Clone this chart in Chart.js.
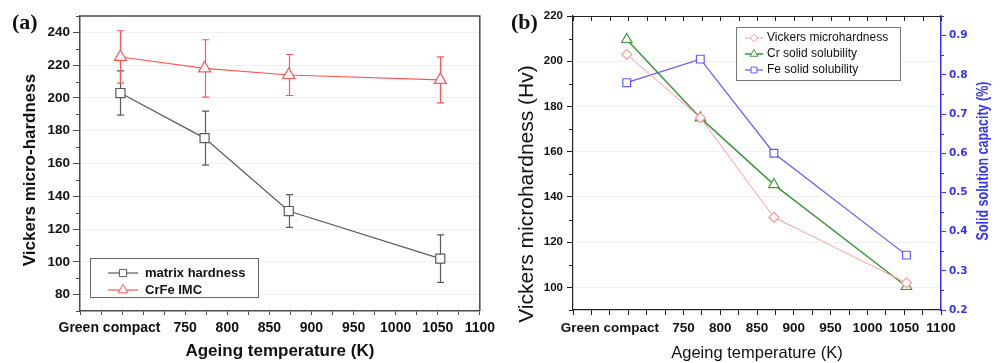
<!DOCTYPE html>
<html>
<head>
<meta charset="utf-8">
<script src="https://cdn.jsdelivr.net/npm/chart.js@4.4.0/dist/chart.umd.min.js"></script>
<style>
  body { margin: 0; background: #fff; width: 1001px; height: 363px; overflow: hidden; position: relative; }
  canvas { position: absolute; top: 0; }
  #chartA { left: 0; }
  #chartB { left: 500px; }
  .tag { position: absolute; top: 11px; font: bold 22px "Liberation Serif", "Times New Roman", serif; line-height: 1; color: #111; }
</style>
</head>
<body>
<canvas id="chartA" width="500" height="363"></canvas>
<canvas id="chartB" width="501" height="363"></canvas>
<div class="tag" style="left:12px">(a)</div>
<div class="tag" style="left:511px">(b)</div>
<script>
// panel (a) data
const tempsA = [673, 773, 873, 1053];
const matrixHardness = [203, 175.5, 131, 102];
const matrixErr = [13.5, 16.5, 10, 14.5];
const imcHardness = [225, 218, 214, 211];
const imcErr = [16, 17.5, 12.5, 14];
const yLabelsA = [80, 100, 120, 140, 160, 180, 200, 220, 240];

// panel (b) data
const tempsB = [673, 773, 873, 1053];
const vickersB = [203, 175, 131, 102];
const crSolubility = [0.89, 0.69, 0.52, 0.26];
const feSolubility = [0.78, 0.84, 0.60, 0.34];
const yLabelsB = [100, 120, 140, 160, 180, 200, 220];
const rightLabelsB = ['0.2', '0.3', '0.4', '0.5', '0.6', '0.7', '0.8', '0.9'];

const xLabels = [750, 800, 850, 900, 950, 1000, 1050, 1100];
const greenCompact = 'Green compact';

const SANS = '"Liberation Sans", Arial, sans-serif';
const DEJAVU = '"DejaVu Sans", sans-serif';
const AXIS_A = '#4a4a4a';
const GRAY = '#5a5a5a';
const RED = '#ff5656';
const PINK = '#ff9c9c';
const GREEN = '#3d963d';
const BLUE = '#5c5cff';
const BLUE_AXIS = '#3434ff';
const FAINT = 'rgba(0,0,0,0.06)';
const NONE = 'rgba(0,0,0,0)';

function stepTicks(min, max, step) {
  const out = [];
  const n = Math.round((max - min) / step);
  for (let i = 0; i <= n; i++) out.push({ value: +(min + i * step).toFixed(4) });
  return out;
}

function points(xs, ys) {
  return xs.map((x, i) => ({ x: x, y: ys[i] }));
}

const isMajorA = v => yLabelsA.includes(v);
const isMajorB = v => yLabelsB.includes(v);
const isMajorR = v => Math.round(v * 100) % 10 === 0 && rightLabelsB.includes(v.toFixed(1));

function drawMarker(ctx, style, x, y, r, color, lw) {
  ctx.save();
  ctx.beginPath();
  if (style === 'rect') {
    const s = Math.SQRT1_2 * r;
    ctx.rect(x - s, y - s, 2 * s, 2 * s);
  } else if (style === 'rectRot') {
    ctx.moveTo(x - r, y); ctx.lineTo(x, y - r); ctx.lineTo(x + r, y); ctx.lineTo(x, y + r);
    ctx.closePath();
  } else {
    const w = Math.sin(Math.PI / 3) * r;
    ctx.moveTo(x, y - r); ctx.lineTo(x + w, y + r / 2); ctx.lineTo(x - w, y + r / 2);
    ctx.closePath();
  }
  ctx.fillStyle = '#fff';
  ctx.fill();
  ctx.strokeStyle = color;
  ctx.lineWidth = lw;
  ctx.stroke();
  ctx.restore();
}

function drawLegendBox(ctx, datasets, box) {
  ctx.save();
  ctx.fillStyle = '#fff';
  ctx.fillRect(box.x, box.y, box.w, box.h);
  ctx.strokeStyle = box.border;
  ctx.lineWidth = 1;
  ctx.strokeRect(box.x + 0.5, box.y + 0.5, box.w, box.h);
  datasets.forEach((ds, i) => {
    const y = box.rowY[i];
    ctx.strokeStyle = ds.borderColor;
    ctx.lineWidth = ds.borderWidth;
    ctx.beginPath();
    ctx.moveTo(box.lineX[0], y);
    ctx.lineTo(box.lineX[1], y);
    ctx.stroke();
    drawMarker(ctx, ds.pointStyle, (box.lineX[0] + box.lineX[1]) / 2, y, ds.pointRadius * box.markerScale, ds.borderColor, 1);
    ctx.fillStyle = '#111';
    ctx.font = box.font;
    ctx.textAlign = 'left';
    ctx.textBaseline = 'middle';
    ctx.fillText(ds.label, box.textX, y);
  });
  ctx.restore();
}

function rotatedText(ctx, text, x, y, font, color, squeeze) {
  ctx.save();
  ctx.translate(x, y);
  ctx.rotate(-Math.PI / 2);
  ctx.scale(squeeze || 1, 1);
  ctx.font = font;
  ctx.fillStyle = color;
  ctx.textAlign = 'center';
  ctx.textBaseline = 'middle';
  ctx.fillText(text, 0, 0);
  ctx.restore();
}

// short ticks between the labelled ones on the vertical axes
function minorTicks(ctx, scale, isMajor, len, color, side) {
  ctx.save();
  ctx.strokeStyle = color;
  ctx.lineWidth = 1;
  ctx.beginPath();
  scale.ticks.forEach(t => {
    if (isMajor(t.value)) return;
    const py = Math.round(scale.getPixelForValue(t.value)) + 0.5;
    if (side === 'left') { ctx.moveTo(scale.right - len, py); ctx.lineTo(scale.right, py); }
    else { ctx.moveTo(scale.left, py); ctx.lineTo(scale.left + len, py); }
  });
  ctx.stroke();
  ctx.restore();
}

// error bars drawn from the dataset's own scales
const errorBars = {
  id: 'errorBars',
  beforeDatasetsDraw(chart) {
    const ctx = chart.ctx;
    chart.data.datasets.forEach((ds, i) => {
      if (!ds.errors) return;
      const meta = chart.getDatasetMeta(i);
      const xs = chart.scales[meta.xAxisID];
      const ys = chart.scales[meta.yAxisID];
      ctx.save();
      ctx.strokeStyle = ds.borderColor;
      ctx.lineWidth = 1.2;
      ds.data.forEach((pt, j) => {
        const x = Math.round(xs.getPixelForValue(pt.x)) + 0.5;
        const top = ys.getPixelForValue(pt.y + ds.errors[j]);
        const bot = ys.getPixelForValue(pt.y - ds.errors[j]);
        ctx.beginPath();
        ctx.moveTo(x, top); ctx.lineTo(x, bot);
        ctx.moveTo(x - 3.5, top); ctx.lineTo(x + 3.5, top);
        ctx.moveTo(x - 3.5, bot); ctx.lineTo(x + 3.5, bot);
        ctx.stroke();
      });
      ctx.restore();
    });
  }
};

const extrasA = {
  id: 'extrasA',
  afterDraw(chart) {
    const ctx = chart.ctx;
    const a = chart.chartArea;
    ctx.save();
    ctx.strokeStyle = AXIS_A;
    ctx.lineWidth = 1.5;
    ctx.beginPath();
    ctx.moveTo(a.left, a.top); ctx.lineTo(a.right, a.top); ctx.lineTo(a.right, a.bottom);
    ctx.stroke();
    ctx.restore();
    minorTicks(ctx, chart.scales.y, isMajorA, 4, AXIS_A, 'left');
    drawLegendBox(ctx, chart.data.datasets, {
      x: 90, y: 258, w: 168, h: 39, rowY: [273, 290], lineX: [108, 138], textX: 145,
      font: 'bold 13px ' + SANS, markerScale: 0.8, border: '#666'
    });
    rotatedText(ctx, 'Vickers micro-hardness', 30, 170, 'bold 17px ' + SANS, '#111');
  }
};

const extrasB = {
  id: 'extrasB',
  afterDraw(chart) {
    const ctx = chart.ctx;
    const a = chart.chartArea;
    const x = chart.scales.x;
    ctx.save();
    ctx.strokeStyle = '#222';
    ctx.lineWidth = 1;
    ctx.beginPath();
    ctx.moveTo(a.left, a.top + 0.5); ctx.lineTo(a.right, a.top + 0.5);
    x.ticks.forEach(t => {
      const px = Math.round(x.getPixelForValue(t.value)) + 0.5;
      ctx.moveTo(px, a.top); ctx.lineTo(px, a.top + 5);
    });
    ctx.stroke();
    ctx.restore();
    minorTicks(ctx, chart.scales.y, isMajorB, 4, '#222', 'left');
    minorTicks(ctx, chart.scales.y1, isMajorR, 3, BLUE_AXIS, 'right');
    drawLegendBox(ctx, chart.data.datasets, {
      x: 236, y: 27, w: 164, h: 53, rowY: [38, 54, 70], lineX: [245, 263], textX: 267,
      font: '12px ' + SANS, markerScale: 0.75, border: '#777'
    });
    rotatedText(ctx, 'Vickers microhardness (Hv)', 27, 194, '21px ' + SANS, '#111');
    rotatedText(ctx, 'Solid solution capacity (%)', 484, 161, 'bold 16px ' + SANS, BLUE_AXIS, 0.78);
  }
};

const chartA = new Chart(document.getElementById('chartA'), {
  type: 'line',
  data: {
    datasets: [
      {
        label: 'matrix hardness', data: points(tempsA, matrixHardness), errors: matrixErr,
        borderColor: GRAY, borderWidth: 1.2, tension: 0,
        pointStyle: 'rect', pointRadius: 6.4, pointBorderWidth: 1.2,
        pointBorderColor: GRAY, pointBackgroundColor: '#fff'
      },
      {
        label: 'CrFe IMC', data: points(tempsA, imcHardness), errors: imcErr,
        borderColor: RED, borderWidth: 1.2, tension: 0,
        pointStyle: 'triangle', pointRadius: 7, pointBorderWidth: 1.2,
        pointBorderColor: RED, pointBackgroundColor: '#fff'
      }
    ]
  },
  options: {
    responsive: false,
    animation: false,
    events: [],
    layout: { padding: { top: 16, right: 17, left: 0, bottom: 0 } },
    plugins: { legend: { display: false }, tooltip: { enabled: false } },
    scales: {
      x: {
        type: 'linear', min: 625, max: 1100,
        afterBuildTicks: s => { s.ticks = stepTicks(625, 1100, 25).concat({ value: 660 }).sort((p, q) => p.value - q.value); },
        afterFit: s => { s.height = 52; },
        ticks: {
          autoSkip: false, maxRotation: 0, padding: 5, color: '#111',
          font: { family: SANS, size: 14, weight: 'bold' },
          callback: v => v === 660 ? greenCompact : (xLabels.includes(v) ? String(v) : '')
        },
        grid: {
          drawOnChartArea: false, tickLength: 4,
          tickColor: c => (c.tick && c.tick.value === 660) ? NONE : AXIS_A
        },
        border: { color: AXIS_A, width: 1.5 },
        title: {
          display: true, text: 'Ageing temperature (K)', color: '#111',
          font: { family: SANS, size: 17, weight: 'bold' }, padding: { top: 0, bottom: 1 }
        }
      },
      y: {
        min: 70, max: 250,
        afterBuildTicks: s => { s.ticks = stepTicks(70, 250, 10); },
        afterFit: s => { s.width = 80; },
        ticks: {
          autoSkip: false, padding: 3, color: '#111',
          font: { family: SANS, size: 13.5, weight: 'bold' },
          callback: v => isMajorA(v) ? String(v) : ''
        },
        grid: {
          tickLength: 7,
          tickColor: c => (c.tick && isMajorA(c.tick.value)) ? AXIS_A : NONE,
          color: c => (c.tick && isMajorA(c.tick.value)) ? FAINT : NONE
        },
        border: { color: AXIS_A, width: 1.5 }
      }
    }
  },
  plugins: [errorBars, extrasA]
});

const chartB = new Chart(document.getElementById('chartB'), {
  type: 'line',
  data: {
    datasets: [
      {
        label: 'Vickers microhardness', data: points(tempsB, vickersB), yAxisID: 'y',
        borderColor: PINK, borderWidth: 1, tension: 0,
        pointStyle: 'rectRot', pointRadius: 5, pointBorderWidth: 1.2,
        pointBorderColor: PINK, pointBackgroundColor: '#fff'
      },
      {
        label: 'Cr solid solubility', data: points(tempsB, crSolubility), yAxisID: 'y1',
        borderColor: GREEN, borderWidth: 1.5, tension: 0,
        pointStyle: 'triangle', pointRadius: 6, pointBorderWidth: 1.2,
        pointBorderColor: GREEN, pointBackgroundColor: '#fff'
      },
      {
        label: 'Fe solid solubility', data: points(tempsB, feSolubility), yAxisID: 'y1',
        borderColor: BLUE, borderWidth: 1.2, tension: 0,
        pointStyle: 'rect', pointRadius: 5.5, pointBorderWidth: 1.2,
        pointBorderColor: BLUE, pointBackgroundColor: '#fff'
      }
    ]
  },
  options: {
    responsive: false,
    animation: false,
    events: [],
    layout: { padding: { top: 16, right: 0, left: 0, bottom: 0 } },
    plugins: { legend: { display: false }, tooltip: { enabled: false } },
    scales: {
      x: {
        type: 'linear', min: 600, max: 1100,
        afterBuildTicks: s => { s.ticks = stepTicks(600, 1100, 25); },
        afterFit: s => { s.height = 53; },
        ticks: {
          autoSkip: false, maxRotation: 0, padding: 5, color: '#111',
          font: { family: SANS, size: 13.5, weight: 'bold' },
          callback: v => v === 650 ? greenCompact : (xLabels.includes(v) ? String(v) : '')
        },
        grid: { drawOnChartArea: false, tickLength: 5, tickColor: '#222' },
        border: { color: '#222', width: 1.2 },
        title: {
          display: true, text: 'Ageing temperature (K)', color: '#111',
          font: { family: SANS, size: 16.5 }, padding: { top: 0, bottom: 0 }
        }
      },
      y: {
        position: 'left', min: 90, max: 220,
        afterBuildTicks: s => { s.ticks = stepTicks(90, 220, 10); },
        afterFit: s => { s.width = 73; },
        ticks: {
          autoSkip: false, padding: 4, color: '#111',
          font: { family: SANS, size: 11.5, weight: 'bold' },
          callback: v => isMajorB(v) ? String(v) : ''
        },
        grid: {
          tickLength: 6,
          tickColor: c => (c.tick && isMajorB(c.tick.value)) ? '#222' : NONE,
          color: c => (c.tick && isMajorB(c.tick.value) && c.tick.value !== 220) ? FAINT : NONE
        },
        border: { color: '#222', width: 1.2 }
      },
      y1: {
        position: 'right', min: 0.2, max: 0.95,
        afterBuildTicks: s => { s.ticks = stepTicks(0.2, 0.95, 0.05); },
        afterFit: s => { s.width = 60; },
        ticks: {
          autoSkip: false, padding: 3, color: BLUE_AXIS,
          font: { family: DEJAVU, size: 10.5, weight: 'bold' },
          callback: v => isMajorR(v) ? v.toFixed(1) : ''
        },
        grid: {
          drawOnChartArea: false, tickLength: 5,
          tickColor: c => (c.tick && isMajorR(c.tick.value)) ? BLUE_AXIS : NONE
        },
        border: { color: BLUE_AXIS, width: 1.5 }
      }
    }
  },
  plugins: [extrasB]
});
</script>
</body>
</html>
